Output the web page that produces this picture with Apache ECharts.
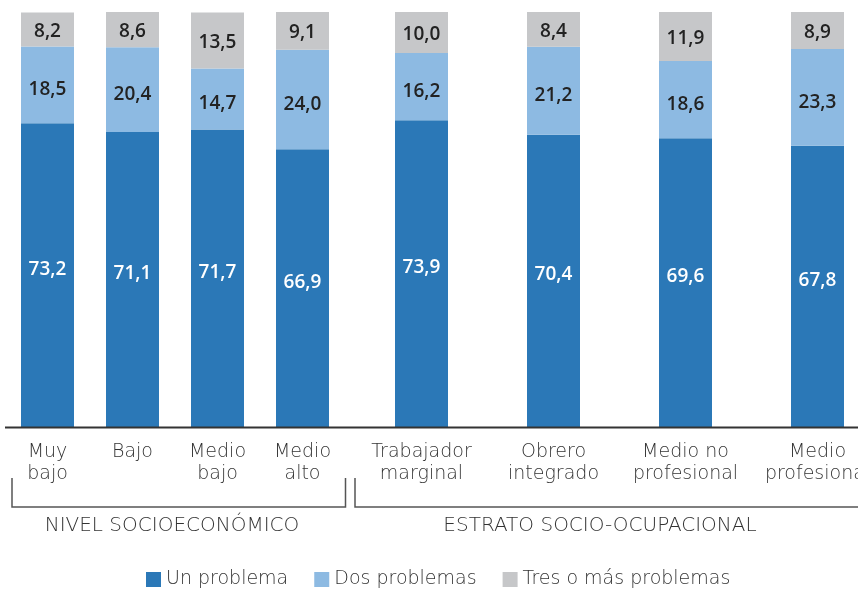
<!DOCTYPE html>
<html><head><meta charset="utf-8">
<script src="https://cdn.jsdelivr.net/npm/echarts@6/dist/echarts.min.js"></script>
<style>html,body{margin:0;padding:0;background:#fff}#c{width:858px;height:591px}</style>
</head><body><div id="c"></div>
<script>
var catsNivel = ['Muy\nbajo', 'Bajo', 'Medio\nbajo', 'Medio\nalto'];
var catsEstrato = ['Trabajador\nmarginal', 'Obrero\nintegrado', 'Medio no\nprofesional', 'Medio\nprofesional'];
var seriesNames = ['Un problema', 'Dos problemas', 'Tres o más problemas'];
var unNivel = [73.2, 71.1, 71.7, 66.9];
var dosNivel = [18.5, 20.4, 14.7, 24.0];
var tresNivel = [8.2, 8.6, 13.5, 9.1];
var unEstrato = [73.9, 70.4, 69.6, 67.8];
var dosEstrato = [16.2, 21.2, 18.6, 23.3];
var tresEstrato = [10.0, 8.4, 11.9, 8.9];
var groupLabels = ['NIVEL SOCIOECONÓMICO', 'ESTRATO SOCIO-OCUPACIONAL'];

var colors = ['#2b78b7', '#8dbae2', '#c6c7c9'];
var labelColors = ['#ffffff', '#222222', '#222222'];
var labelOffsets = [[0, -6], [0, 5], [0, 2]];
var FONT = '"DejaVu Sans", "Open Sans", sans-serif';
var LFONT = '"Open Sans", "Noto Sans", sans-serif';
var TXT = '#333';

function mk(name, data, idx, gi) {
  return {
    name: name, type: 'bar', stack: 's' + gi, xAxisIndex: gi, yAxisIndex: gi,
    data: data, barWidth: 53,
    itemStyle: { color: colors[idx] },
    label: {
      show: true, position: 'inside', color: labelColors[idx], offset: labelOffsets[idx],
      fontFamily: LFONT, fontSize: 19, fontWeight: 600,
      formatter: function (p) { return p.value.toFixed(1).replace('.', ','); }
    }
  };
}
var chart = echarts.init(document.getElementById('c'));
var axisLabel = { interval: 0, color: TXT, fontFamily: FONT, fontSize: 19, fontWeight: 200, lineHeight: 22, margin: 14 };
var lineStyle = { stroke: '#555', lineWidth: 1.5 };
chart.setOption({
  animation: false,
  color: colors,
  grid: [
    { left: 5, width: 340, top: 12, height: 415, outerBoundsMode: 'none', containLabel: false },
    { left: 355.5, width: 528, top: 12, height: 415, outerBoundsMode: 'none', containLabel: false }
  ],
  xAxis: [
    { type: 'category', gridIndex: 0, data: catsNivel, axisLine: { show: false }, axisTick: { show: false }, axisLabel: axisLabel },
    { type: 'category', gridIndex: 1, data: catsEstrato, axisLine: { show: false }, axisTick: { show: false }, axisLabel: axisLabel }
  ],
  yAxis: [
    { type: 'value', gridIndex: 0, min: 0, max: 100, show: false },
    { type: 'value', gridIndex: 1, min: 0, max: 100, show: false }
  ],
  legend: {
    data: seriesNames, top: 570, left: 146, itemWidth: 15, itemHeight: 15, itemGap: 26,
    icon: 'rect', padding: 0,
    textStyle: { color: TXT, fontFamily: FONT, fontSize: 19, fontWeight: 200 }
  },
  series: [
    mk(seriesNames[0], unNivel, 0, 0), mk(seriesNames[1], dosNivel, 1, 0), mk(seriesNames[2], tresNivel, 2, 0),
    mk(seriesNames[0], unEstrato, 0, 1), mk(seriesNames[1], dosEstrato, 1, 1), mk(seriesNames[2], tresEstrato, 2, 1)
  ],
  graphic: [
    { type: 'line', shape: { x1: 5, y1: 427.5, x2: 858, y2: 427.5 }, style: { stroke: '#333', lineWidth: 2 }, z: 10 },
    { type: 'polyline', shape: { points: [[12, 478], [12, 507], [345.5, 507], [345.5, 478]] }, style: Object.assign({ fill: null }, lineStyle) },
    { type: 'polyline', shape: { points: [[355, 478], [355, 507], [870, 507]] }, style: Object.assign({ fill: null }, lineStyle) },
    { type: 'text', x: 172, y: 526, style: { text: groupLabels[0], fill: TXT, font: '200 20px ' + FONT, align: 'center', verticalAlign: 'middle' } },
    { type: 'text', x: 600, y: 526, style: { text: groupLabels[1], fill: TXT, font: '200 20px ' + FONT, align: 'center', verticalAlign: 'middle' } }
  ]
});
</script></body></html>
